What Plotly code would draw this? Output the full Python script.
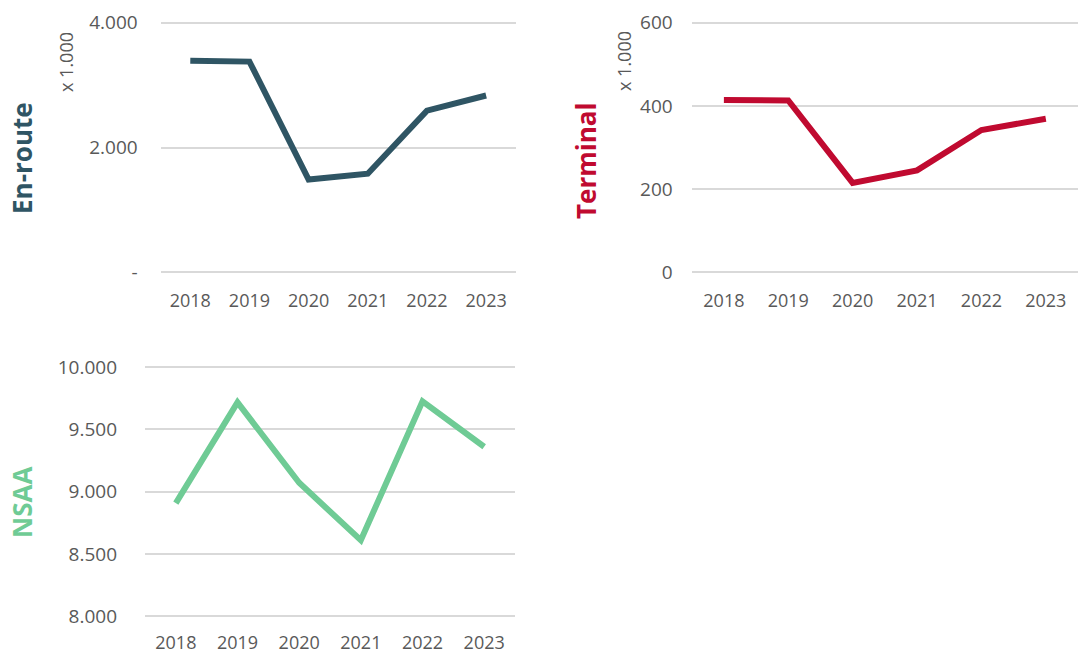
import plotly.graph_objects as go

years = ["2018", "2019", "2020", "2021", "2022", "2023"]
enroute = [3390, 3375, 1487, 1580, 2591, 2833]
terminal = [414, 413, 215, 245, 342, 369]
nsaa = [8908, 9716, 9071, 8611, 9724, 9360]

enroute_ticks = [0, 2000, 4000]
enroute_ticktext = ["-", "2.000", "4.000"]
terminal_ticks = [0, 200, 400, 600]
terminal_ticktext = ["0", "200", "400", "600"]
nsaa_ticks = [8000, 8500, 9000, 9500, 10000]
nsaa_ticktext = ["8.000", "8.500", "9.000", "9.500", "10.000"]

C_EN = "#2f5564"
C_TE = "#c00a30"
C_NS = "#6fcb95"
GRID = "#d9d9d9"
TICK = "#595959"
FONT = "Open Sans"

H = 654.0
W = 1078.0

def px_x(a, b):
    return [a / W, b / W]

def px_y(top, bottom):
    return [(H - bottom) / H, (H - top) / H]

fig = go.Figure()
fig.add_trace(go.Scatter(x=years, y=enroute, mode="lines",
                         line=dict(color=C_EN, width=6), xaxis="x", yaxis="y"))
fig.add_trace(go.Scatter(x=years, y=terminal, mode="lines",
                         line=dict(color=C_TE, width=6), xaxis="x2", yaxis="y2"))
fig.add_trace(go.Scatter(x=years, y=nsaa, mode="lines",
                         line=dict(color=C_NS, width=6), xaxis="x3", yaxis="y3"))

xcommon = dict(type="category", showgrid=False, zeroline=False, showline=False,
               tickfont=dict(family=FONT, size=18, color=TICK), ticks="",
               ticklabelstandoff=14, fixedrange=True, automargin=False,
               range=[-0.5, 5.5])
ycommon = dict(showgrid=True, gridcolor=GRID, gridwidth=2, zeroline=False, showline=False,
               tickfont=dict(family=FONT, size=19, color=TICK), ticks="", fixedrange=True,
               automargin=False)

fig.update_layout(
    template="none",
    width=1078, height=654,
    margin=dict(l=0, r=0, t=0, b=0, pad=0),
    paper_bgcolor="white", plot_bgcolor="white",
    showlegend=False,
    font=dict(family=FONT, color=TICK),
    xaxis=dict(xcommon, domain=px_x(160.7, 515.7), anchor="y"),
    yaxis=dict(ycommon, domain=px_y(20.7, 274.3), anchor="x",
               range=[-30, 4030], tickvals=enroute_ticks, ticktext=enroute_ticktext,
               ticklabelstandoff=22),
    xaxis2=dict(xcommon, domain=px_x(691.7, 1078), anchor="y2"),
    yaxis2=dict(ycommon, domain=px_y(20.7, 274.3), anchor="x2",
                range=[-4.5, 604.5], tickvals=terminal_ticks, ticktext=terminal_ticktext,
                ticklabelstandoff=18),
    xaxis3=dict(xcommon, domain=px_x(145, 515), anchor="y3", ticklabelstandoff=12),
    yaxis3=dict(ycommon, domain=px_y(365, 618.3), anchor="x3",
                range=[7985, 10015], tickvals=nsaa_ticks, ticktext=nsaa_ticktext,
                ticklabelstandoff=27),
)

ann = [
    dict(text="<b>En-route</b>", x=22 / W, y=(H - 158) / H, color=C_EN, size=26),
    dict(text="<b>Terminal</b>", x=586 / W, y=(H - 161) / H, color=C_TE, size=26),
    dict(text="<b>NSAA</b>", x=22 / W, y=(H - 503) / H, color=C_NS, size=26),
    dict(text="x 1.000", x=66 / W, y=(H - 62) / H, color=TICK, size=18),
    dict(text="x 1.000", x=624 / W, y=(H - 61) / H, color=TICK, size=18),
]
for a in ann:
    fig.add_annotation(text=a["text"], x=a["x"], y=a["y"], xref="paper", yref="paper",
                       xanchor="center", yanchor="middle", textangle=-90, showarrow=False,
                       font=dict(family=FONT, size=a["size"], color=a["color"]))

fig.write_html("out.html", config={"displayModeBar": False})

with open("out.html", "r", encoding="utf-8") as f:
    html = f.read()
html = html.replace("<head>", "<head><style>html,body{margin:0;padding:0;overflow:hidden;}</style>", 1)
with open("out.html", "w", encoding="utf-8") as f:
    f.write(html)
